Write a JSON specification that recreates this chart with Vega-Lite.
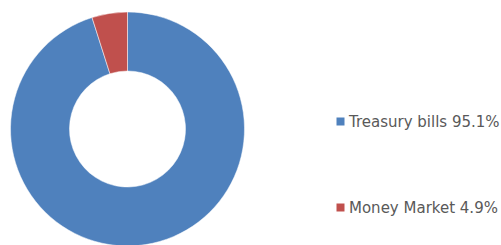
{
  "$schema": "https://vega.github.io/schema/vega-lite/v6.json",
  "width": 255,
  "height": 234,
  "autosize": "none",
  "padding": {"left": 0, "top": 12, "right": 246, "bottom": 0},
  "background": "white",
  "view": {"stroke": null},
  "data": {"values": [
    {"label": "Treasury bills 95.1%", "value": 95.1, "order": 1},
    {"label": "Money Market 4.9%", "value": 4.9, "order": 2}
  ]},
  "mark": {"type": "arc", "outerRadius": 117, "innerRadius": 58, "stroke": "white", "strokeWidth": 0.5},
  "encoding": {
    "theta": {"field": "value", "type": "quantitative", "stack": true},
    "order": {"field": "order", "type": "quantitative"},
    "color": {
      "field": "label", "type": "nominal",
      "sort": ["Treasury bills 95.1%", "Money Market 4.9%"],
      "scale": {"domain": ["Treasury bills 95.1%", "Money Market 4.9%"], "range": ["#4f81bd", "#c0504d"]},
      "legend": {
        "title": null,
        "orient": "none",
        "legendX": 333,
        "legendY": 102,
        "symbolType": "square",
        "symbolSize": 64,
        "symbolStrokeWidth": 0,
        "labelFont": "DejaVu Sans",
        "labelFontSize": 15,
        "labelColor": "#595959",
        "labelOffset": 1,
        "labelLimit": 300,
        "rowPadding": 70
      }
    }
  }
}
